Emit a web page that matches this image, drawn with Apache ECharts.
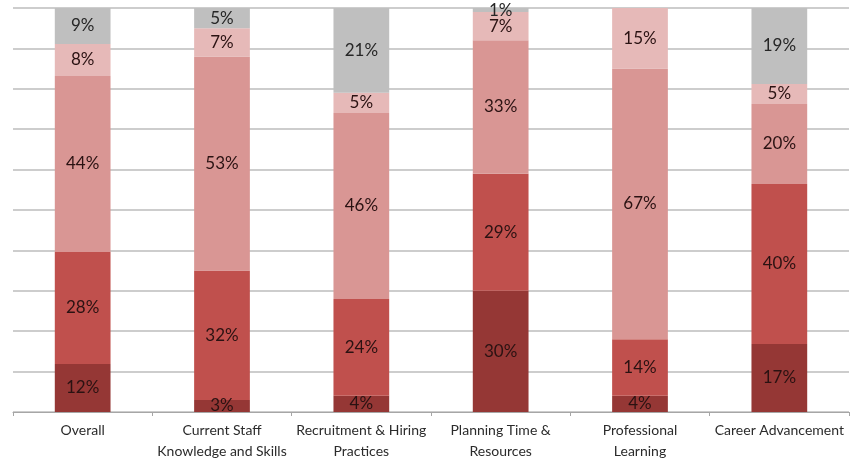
<!DOCTYPE html>
<html>
<head>
<meta charset="utf-8">
<script src="https://cdn.jsdelivr.net/npm/echarts@6/dist/echarts.min.js"></script>
<style>html,body{margin:0;padding:0;background:#fff;}#c{width:859px;height:462px;}</style>
</head>
<body>
<div id="c"></div>
<script>
const categories = ['Overall', 'Current Staff\nKnowledge and Skills', 'Recruitment & Hiring\nPractices', 'Planning Time &\nResources', 'Professional\nLearning', 'Career Advancement'];
const seriesNames = ['Level 1', 'Level 2', 'Level 3', 'Level 4', 'Level 5'];
const level1 = [12, 3, 4, 30, 4, 17];
const level2 = [28, 32, 24, 29, 14, 40];
const level3 = [44, 53, 46, 33, 67, 20];
const level4 = [8, 7, 5, 7, 15, 5];
const level5 = [9, 5, 21, 1, 0, 19];
const yTicks = [0, 10, 20, 30, 40, 50, 60, 70, 80, 90, 100];

const raw = [level1, level2, level3, level4, level5];
const colors = ['#953735', '#c0504d', '#d99694', '#e6b9b8', '#bfbfbf'];
const totals = categories.map((_, i) => raw.reduce((s, arr) => s + arr[i], 0));

const chart = echarts.init(document.getElementById('c'), null, {renderer: 'canvas'});
chart.setOption({
  animation: false,
  grid: {left: 13, right: 10, top: 8, bottom: 50},
  xAxis: {
    type: 'category',
    data: categories,
    axisLine: {lineStyle: {color: '#a6a6a6', width: 1}},
    axisTick: {show: true, length: 4, lineStyle: {color: '#a6a6a6'}},
    axisLabel: {color: '#2b2b2b', fontFamily: 'Lato', fontSize: 14, lineHeight: 21, margin: 8, interval: 0}
  },
  yAxis: {
    type: 'value',
    min: yTicks[0],
    max: yTicks[yTicks.length - 1],
    interval: yTicks[1] - yTicks[0],
    axisLabel: {show: false},
    axisLine: {show: false},
    axisTick: {show: false},
    splitLine: {lineStyle: {color: '#bdbdbd', width: 1.5}}
  },
  series: raw.map((arr, si) => ({
    name: seriesNames[si],
    type: 'bar',
    stack: 'total',
    barWidth: '40%',
    itemStyle: {color: colors[si]},
    label: {
      show: true,
      position: 'inside',
      color: si === 4 ? '#262626' : '#2a1212',
      fontFamily: 'Lato',
      fontSize: 17,
      formatter: p => arr[p.dataIndex] > 0 ? arr[p.dataIndex] + '%' : ''
    },
    data: arr.map((v, i) => v / totals[i] * 100)
  }))
});
</script>
</body>
</html>
